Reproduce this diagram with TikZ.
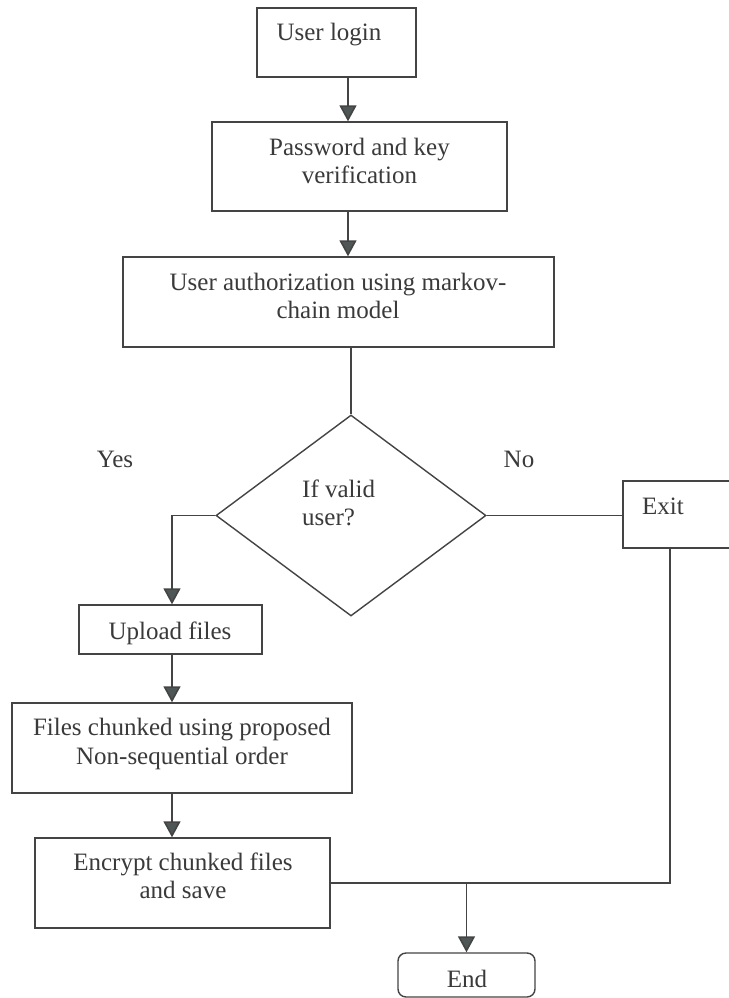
\documentclass[tikz,border=0pt]{standalone}
\usepackage{fontspec}
\setmainfont{Liberation Serif}
\usetikzlibrary{arrows.meta,shapes.geometric}
\definecolor{txtc}{HTML}{3A3A3A}
\definecolor{linec}{HTML}{444444}
\definecolor{headc}{HTML}{4E5656}
\begin{document}
\begin{tikzpicture}[x=1pt,y=-1pt,
  box/.style={draw=linec,line width=1.4pt,rectangle,inner sep=0pt},
  conn/.style={draw=linec,line width=1.6pt},
  arr/.style={conn,-{Triangle[width=17pt,length=16pt,fill=headc]}},
  lbl/.style={font=\fontsize{25}{29}\selectfont,text=txtc,inner sep=0pt,anchor=base}]
\useasboundingbox (0,0) rectangle (728,998);
\fill[white] (0,0) rectangle (728,998);
% boxes
\node[box,minimum width=159pt,minimum height=69pt] (login) at (336.5,42.5) {};
\node[box,minimum width=295pt,minimum height=89pt] (pwd) at (359.5,166.5) {};
\node[box,minimum width=431pt,minimum height=90pt] (auth) at (338.5,302) {};
\node[draw=linec,line width=1.4pt,diamond,inner sep=0pt,minimum width=270pt,minimum height=201pt] (dia) at (351,515.5) {};
\node[box,minimum width=183pt,minimum height=49pt] (upload) at (170.5,629.5) {};
\node[box,minimum width=340pt,minimum height=90pt] (chunk) at (182,748) {};
\node[box,minimum width=295pt,minimum height=90pt] (enc) at (182.5,883) {};
\node[box,minimum width=117pt,minimum height=67pt] (exit) at (681.5,514.5) {};
\node[box,rounded corners=8pt,minimum width=137pt,minimum height=44pt] (end) at (466.5,975) {};
% texts
\node[lbl] (t1) at (329,41) {User login};
\node[lbl] (t2a) at (359.5,155) {Password and key};
\node[lbl] (t2b) at (359.5,183) {verification};
\node[lbl] (t3a) at (338,290) {User authorization using markov-};
\node[lbl] (t3b) at (338,318) {chain model};
\node[lbl,anchor=base west] (t4a) at (302,497) {If valid};
\node[lbl,anchor=base west] (t4b) at (302,525) {user?};
\node[lbl] (yes) at (115,467) {Yes};
\node[lbl] (no) at (519,467) {No};
\node[lbl] (t5) at (663,514) {Exit};
\node[lbl] (t6) at (170,639) {Upload files};
\node[lbl] (t7a) at (182,735) {Files chunked using proposed};
\node[lbl] (t7b) at (182,764) {Non-sequential order};
\node[lbl] (t8a) at (183,870) {Encrypt chunked files};
\node[lbl] (t8b) at (183,898) {and save};
\node[lbl] (t9) at (467,987) {End};
% connector guide coordinates
\coordinate (ax) at (348,0);
\coordinate (bx) at (172,0);
\coordinate (ex) at (670,0);
% connectors
\draw[arr] (login.south -| ax) -- (pwd.north -| ax);
\draw[arr] (pwd.south -| ax) -- (auth.north -| ax);
\draw[conn] (auth.south -| dia.north) -- (dia.north);
\draw[arr] (dia.west) -| (upload.north -| bx);
\draw[conn] (dia.east) -- (dia.east -| exit.west);
\draw[arr] (upload.south -| bx) -- (chunk.north -| bx);
\draw[arr] (chunk.south -| bx) -- (enc.north -| bx);
\draw[conn] (exit.south -| ex) |- (enc.east);
\draw[arr] (enc.east -| end.north) -- (end.north);
\end{tikzpicture}
\end{document}
